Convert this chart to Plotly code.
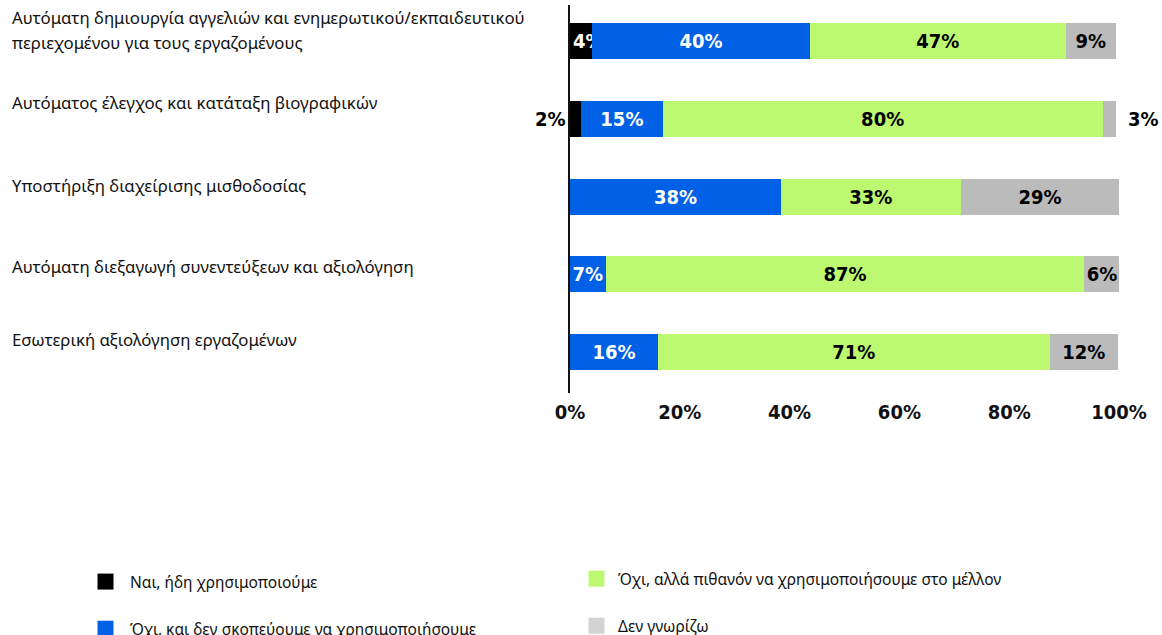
import plotly.graph_objects as go

categories = [
    "Αυτόματη δημιουργία αγγελιών και ενημερωτικού/εκπαιδευτικού<br>περιεχομένου για τους εργαζομένους",
    "Αυτόματος έλεγχος και κατάταξη βιογραφικών",
    "Υποστήριξη διαχείρισης μισθοδοσίας",
    "Αυτόματη διεξαγωγή συνεντεύξεων και αξιολόγηση",
    "Εσωτερική αξιολόγηση εργαζομένων",
]
series_names = [
    "Ναι, ήδη χρησιμοποιούμε",
    "Όχι, και δεν σκοπεύουμε να χρησιμοποιήσουμε",
    "Όχι, αλλά πιθανόν να χρησιμοποιήσουμε στο μέλλον",
    "Δεν γνωρίζω",
]
# shares (%) per category
yes_now = [4.0, 2.0, 0, 0, 0]
no_never = [39.7, 14.9, 38.4, 6.5, 16.0]
no_maybe = [46.6, 80.1, 32.8, 87.2, 71.4]
dont_know = [9.1, 2.5, 28.8, 6.4, 12.4]
tick_vals = [0, 20, 40, 60, 80, 100]
tick_text = ["0%", "20%", "40%", "60%", "80%", "100%"]

# styles
colors = ["#000000", "#0060e6", "#bdf970", "#bbbbbb"]
legend_colors = ["#000000", "#0060e6", "#bdf970", "#d3d3d3"]
text_colors = ["#ffffff", "#ffffff", "#000000", "#000000"]
text_anchor = ["start", "middle", "middle", "middle"]
legend_ids = ["legend", "legend", "legend2", "legend2"]
label_yshift = [24, 17, 11, 8, 12]
LINE_GAP = 25

LABEL_FONT = "DejaVu Sans Condensed, Roboto"
CAT_FONT = "Noto Sans"
W, H = 1162, 635
ML, MR, MT, MB = 570, 43, 5, 242
PW = W - ML - MR

all_series = [yes_now, no_never, no_maybe, dont_know]
ys = list(range(len(categories)))


def pct(v):
    return f"{int(v + 0.5)}%"


fig = go.Figure()
for i, (name, vals) in enumerate(zip(series_names, all_series)):
    texts = ["" if v <= 3 else pct(v) for v in vals]
    fig.add_trace(go.Bar(
        name=name,
        y=ys,
        x=vals,
        orientation="h",
        marker=dict(color=colors[i], line=dict(width=0)),
        text=texts,
        texttemplate="%{text}",
        textposition="inside",
        insidetextanchor=text_anchor[i],
        textangle=0,
        constraintext="none",
        textfont=dict(family=LABEL_FONT, size=20, color=text_colors[i], weight="bold"),
        hoverinfo="skip",
        showlegend=False,
        width=0.464,
    ))

# legend entries (square swatches)
for i, name in enumerate(series_names):
    fig.add_trace(go.Scatter(
        x=[None], y=[None], mode="markers", name=name,
        marker=dict(symbol="square", size=16, color=legend_colors[i]),
        legend=legend_ids[i], legendgroup=name, hoverinfo="skip",
    ))

annotations = []
# small values shown outside the bars
for r in ys:
    if 0 < yes_now[r] <= 3:
        annotations.append(dict(x=0, y=r, xref="x", yref="y", text=pct(yes_now[r]),
                                showarrow=False, xanchor="right", xshift=-2,
                                font=dict(family=LABEL_FONT, size=20, color="#000", weight="bold")))
    if 0 < dont_know[r] <= 3:
        total = yes_now[r] + no_never[r] + no_maybe[r] + dont_know[r]
        annotations.append(dict(x=total, y=r, xref="x", yref="y", text=pct(dont_know[r]),
                                showarrow=False, xanchor="left", xshift=10,
                                font=dict(family=LABEL_FONT, size=20, color="#000", weight="bold")))
# category labels on the left
for r, c in enumerate(categories):
    lines = c.split("<br>")
    for k, line in enumerate(lines):
        annotations.append(dict(x=(10 - ML) / PW, xref="paper", y=r, yref="y",
                                text=line, showarrow=False, xanchor="left", yanchor="middle",
                                align="left", yshift=label_yshift[r] - k * LINE_GAP,
                                font=dict(family=CAT_FONT, size=16.8, color="#111")))

fig.update_layout(
    width=W, height=H,
    margin=dict(l=ML, r=MR, t=MT, b=MB, autoexpand=False),
    plot_bgcolor="white", paper_bgcolor="white",
    barmode="stack",
    xaxis=dict(range=[0, 100], tickvals=tick_vals, ticktext=tick_text, showgrid=False,
               zeroline=False, showline=False, ticks="", tickangle=0, automargin=False,
               ticklabelstandoff=5,
               tickfont=dict(family=LABEL_FONT, size=20, color="#111", weight="bold")),
    yaxis=dict(range=[4.53, -0.47], showticklabels=False, showgrid=False, zeroline=False,
               showline=True, linecolor="#111", linewidth=2, ticks="", automargin=False),
    annotations=annotations,
    legend=dict(xref="container", yref="container", x=81 / W, y=1 - 565 / H,
                xanchor="left", yanchor="top", orientation="v", tracegroupgap=24,
                itemwidth=39,
                font=dict(family=CAT_FONT, size=15.5, color="#111")),
    legend2=dict(xref="container", yref="container", x=575 / W, y=1 - 562 / H,
                 xanchor="left", yanchor="top", orientation="v", tracegroupgap=24,
                 itemwidth=33,
                 font=dict(family=CAT_FONT, size=15.5, color="#111")),
    showlegend=True,
)

fig.write_html("out.html", config={"displayModeBar": False},
               post_script="document.body.style.margin='0';")
